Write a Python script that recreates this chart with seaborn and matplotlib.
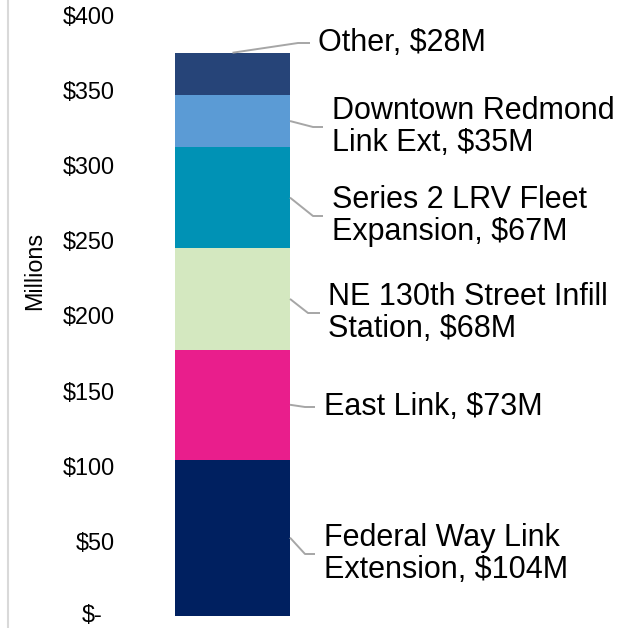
import matplotlib
matplotlib.use("Agg")
import matplotlib.pyplot as plt
from matplotlib.transforms import ScaledTranslation
from matplotlib.lines import Line2D
import seaborn as sns
import pandas as pd
import numpy as np

# ---- data ----
projects = ["Federal Way Link\nExtension", "East Link", "NE 130th Street Infill\nStation",
            "Series 2 LRV Fleet\nExpansion", "Downtown Redmond\nLink Ext", "Other"]
values = [104, 73, 68, 67, 35, 28]
colors = ["#002060", "#E91E8C", "#D4E8C0", "#0092B5", "#5B9BD5", "#264478"]
yticks = [0, 50, 100, 150, 200, 250, 300, 350, 400]
yticklabels = ["$-", "$50", "$100", "$150", "$200", "$250", "$300", "$350", "$400"]

sns.set_theme(style="white")
plt.rcParams["font.family"] = ["Liberation Sans", "DejaVu Sans"]

W, H = 619, 628
fig = plt.figure(figsize=(W / 100, H / 100), dpi=100)
# axes placement in px
y0_px, y400_px = 615.7, 15.2
ax_left_px = 123.8
ax = fig.add_axes([ax_left_px / W, (H - y0_px) / H, 1 - ax_left_px / W, (y0_px - y400_px) / H])

df = pd.DataFrame({"project": projects, "value": values, "color": colors})
df["top"] = df["value"].cumsum()
df["bottom"] = df["top"] - df["value"]
df["cat"] = "Total"

# draw from tallest cumulative to smallest so lower segments overlay
for i in range(len(df) - 1, -1, -1):
    sub = df.iloc[[i]]
    sns.barplot(data=sub, x="cat", y="top", color=df["color"][i], width=0.8,
                saturation=1, ax=ax, edgecolor="none", linewidth=0)

px_per_unit = 115 / 0.8
ax.set_xlim(-0.4 - (175 - ax_left_px) / px_per_unit, 0.4 + (W - 290) / px_per_unit)
ax.set_ylim(0, 400)
ax.set_yticks(yticks)
ax.set_yticklabels(yticklabels, fontsize=16.8, color="#000000")
ax.set_xticks([])
ax.set_xlabel("")
ax.tick_params(axis="y", length=0, pad=6.3)
for s in ax.spines.values():
    s.set_visible(False)
# accounting-format zero label sits a bit left (and slightly higher)
lab0 = ax.get_yticklabels()[0]
lab0.set_transform(lab0.get_transform() + ScaledTranslation(-13 / 100, 3 / 100, fig.dpi_scale_trans))

ax.set_ylabel("Millions", fontsize=16.8, color="#000000")
ax.yaxis.set_label_coords((46 - ax_left_px) / (W - ax_left_px), (y0_px - 271) / (y0_px - y400_px))

# chart border line on the left
fig.add_artist(Line2D([8 / W, 8 / W], [0, 1], color="#D9D9D9", lw=1.5, transform=fig.transFigure))

def dx(px):
    return -0.4 + (px - 175) / px_per_unit

def dy(py):
    return (y0_px - py) / ((y0_px - y400_px) / 400)

# label layout: (text x px, text center y px, elbow x px, end x px)
layout = [
    (324, 554, 305, 315),
    (324, 407, 305, 315),
    (328, 313, 308, 320),
    (332, 216, 313, 323),
    (332, 127, 313, 323),
    (318, 43, 298, 310),
]
lead = "#A6A6A6"
for i, (tx, ty, ex, nx) in enumerate(layout):
    name = df["project"][i]
    val = df["value"][i]
    mid = df["bottom"][i] + val / 2
    if i == len(df) - 1:
        sx, sy = 0.0, df["top"][i]
    else:
        sx, sy = 0.4, mid
    ax.plot([sx, dx(ex), dx(nx)], [sy, dy(ty), dy(ty)], color=lead, lw=1.4,
            solid_capstyle="butt", clip_on=False, zorder=5)
    ax.text(dx(tx), dy(ty), f"{name}, ${val}M", ha="left", va="center",
            fontsize=22, color="#000000", linespacing=1.13, clip_on=False)

fig.savefig("out.png", dpi=100)
